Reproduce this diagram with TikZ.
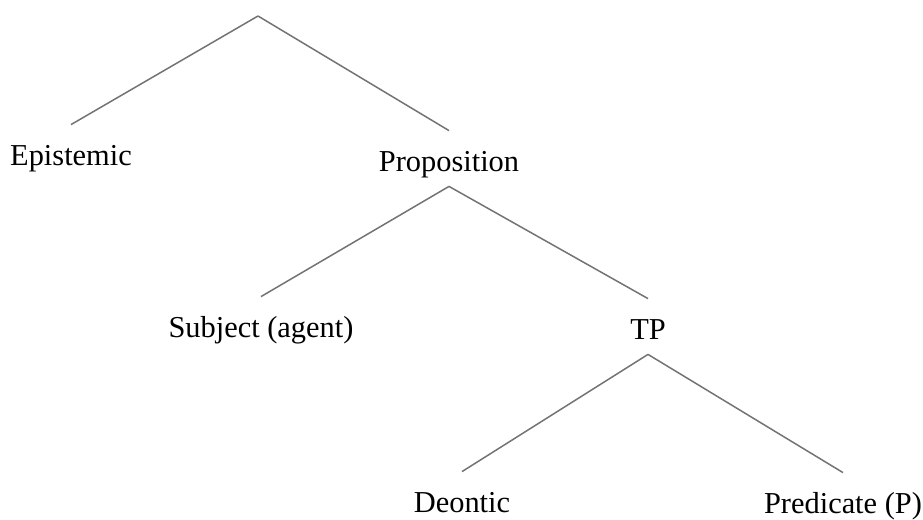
\documentclass[tikz,border=0pt]{standalone}
\usepackage{fontspec}
\setmainfont{Liberation Serif}
\usepackage{tikz}

\begin{document}
\begin{tikzpicture}[x=0.5pt,y=-0.5pt,
  cat/.style={inner sep=0pt,anchor=base,text height=20pt,text depth=7.5pt,
    font=\fontsize{15.2}{18}\selectfont},
  branch/.style={draw=black!55,line width=0.75pt}]

\useasboundingbox (0,0) rectangle (923,520);

\coordinate (root) at (258,16);
\node [cat] (epi)  at (71,165)  {Epistemic};
\node [cat] (prop) at (449,171) {Proposition};
\node [cat] (subj) at (261,337) {Subject (agent)};
\node [cat] (tp)   at (648,339) {TP};
\node [cat] (deon) at (462,512) {Deontic};
\node [cat] (pred) at (843,513) {Predicate (P)};

\draw[branch] (root) -- (epi.north);
\draw[branch] (root) -- (prop.north);
\foreach \p/\c in {prop/subj, prop/tp, tp/deon, tp/pred}{
 \draw[branch] (\p.south) -- (\c.north);
}
\end{tikzpicture}
\end{document}
